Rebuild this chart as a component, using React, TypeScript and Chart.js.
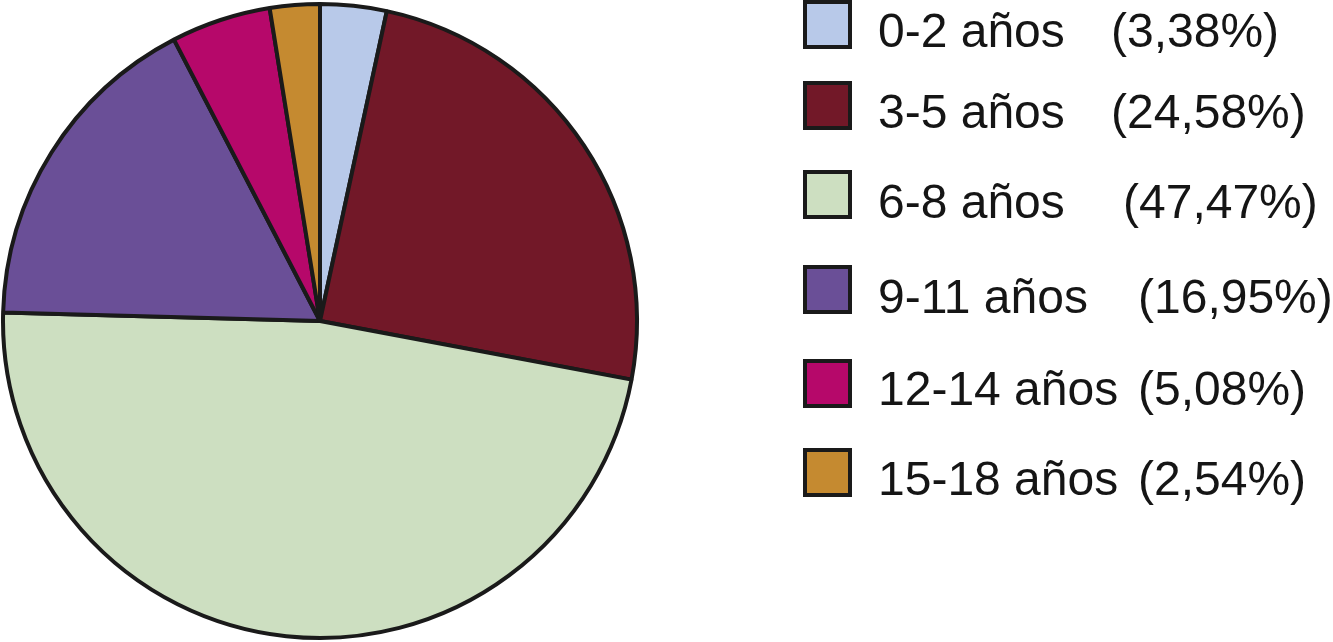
import React, { useEffect, useRef } from "react";
import { Chart, registerables } from "chart.js";

Chart.register(...registerables);

const categories = ["0-2 años", "3-5 años", "6-8 años", "9-11 años", "12-14 años", "15-18 años"];
const percentages = [3.38, 24.58, 47.47, 16.95, 5.08, 2.54];
const sliceColors = ["#B8C9E9", "#721828", "#CDDFC1", "#6A4F97", "#B6086A", "#C58A30"];

const fmtPct = (v: number) => "(" + v.toFixed(2).replace(".", ",") + "%)";

const legendPlugin = {
  id: "customLegend",
  afterDraw(chart: any) {
    const ctx = chart.ctx as CanvasRenderingContext2D;
    const boxTops = [0, 81, 170, 265, 359, 448];
    const baselines = [47, 128, 218, 313, 405, 495];
    const pctX = [1111, 1111, 1123, 1138, 1138, 1138];
    const boxX = 803;
    const outer = 49;
    const lw = 4;
    const textX = 878;
    ctx.save();
    ctx.font = "48px 'Liberation Sans', Arial, sans-serif";
    ctx.textBaseline = "alphabetic";
    categories.forEach((label, i) => {
      const top = boxTops[i];
      ctx.fillStyle = sliceColors[i];
      ctx.fillRect(boxX + lw / 2, top + lw / 2, outer - lw, outer - lw);
      ctx.lineWidth = lw;
      ctx.strokeStyle = "#1a1a1a";
      ctx.strokeRect(boxX + lw / 2, top + lw / 2, outer - lw, outer - lw);
      ctx.fillStyle = "#151515";
      ctx.fillText(label, textX, baselines[i]);
      ctx.fillText(fmtPct(percentages[i]), pctX[i], baselines[i]);
    });
    ctx.restore();
  },
};

export default function App() {
  const canvasRef = useRef<HTMLCanvasElement | null>(null);

  useEffect(() => {
    document.body.style.margin = "0";
    const canvas = canvasRef.current;
    if (!canvas) return;
    const chart = new Chart(canvas, {
      type: "pie",
      data: {
        labels: categories,
        datasets: [
          {
            data: percentages,
            backgroundColor: sliceColors,
            borderColor: "#1a1a1a",
            borderWidth: 4,
          },
        ],
      },
      options: {
        responsive: false,
        animation: false,
        layout: { padding: { left: 1, top: 2, bottom: 2, right: 694 } },
        plugins: {
          legend: { display: false },
          tooltip: { enabled: false },
        },
      },
      plugins: [legendPlugin],
    });
    return () => chart.destroy();
  }, []);

  return (
    <div style={{ position: "absolute", left: 0, top: 0, width: 1333, height: 642, background: "#fff" }}>
      <canvas ref={canvasRef} width={1333} height={642} />
    </div>
  );
}
